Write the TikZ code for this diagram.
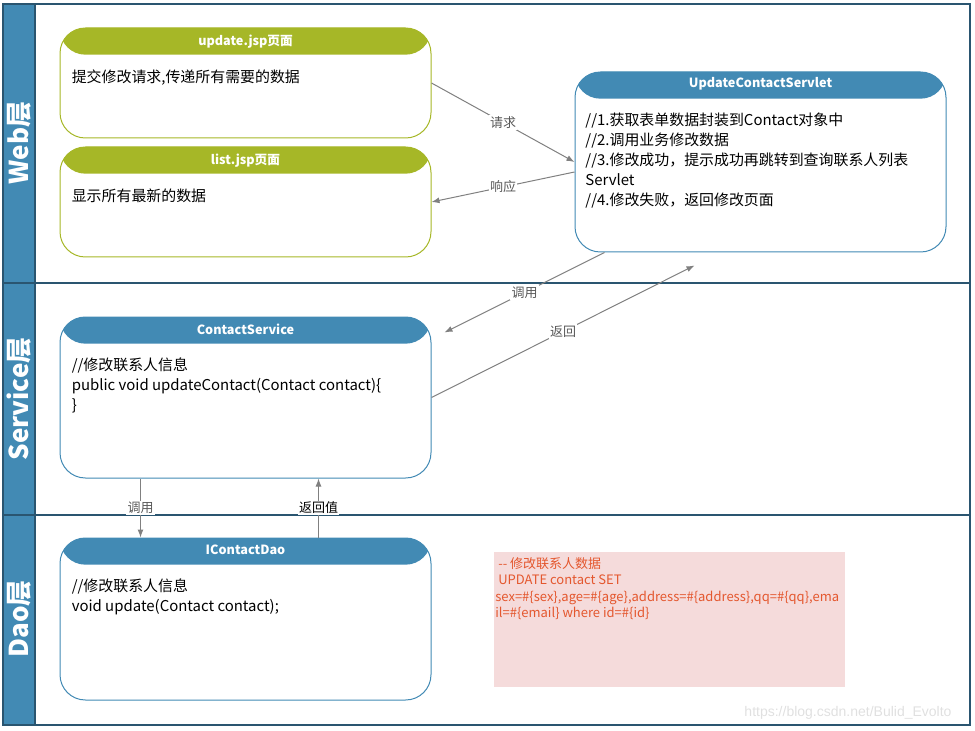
\documentclass[tikz,border=0pt]{standalone}
\usepackage{fontspec}
\setmainfont{Noto Sans CJK SC}
\newfontfamily\wmfont{Liberation Sans}
\usetikzlibrary{%
    arrows.meta,
    calc,
    positioning
}
\definecolor{laneblue}{HTML}{428AB4}
\definecolor{laneline}{HTML}{2A5570}
\definecolor{pagegreen}{HTML}{A6B727}
\definecolor{arrowgray}{HTML}{808080}
\definecolor{notepink}{HTML}{F5DBDB}
\definecolor{notered}{HTML}{E4572E}
\tikzset{headarrow/.style = {-{Latex[length=6pt,width=4.5pt]}}}
\tikzset{flow/.style = {arrowgray, line width=0.75pt, headarrow}}
\tikzset{flowlabel/.style = {fill=white, inner sep=1pt, text=black!65,
    font=\fontsize{9.75}{11}\selectfont}}
\tikzset{card/.style = {draw=#1, fill=white, line width=0.75pt,
    rounded corners=19pt, inner sep=0pt, minimum width=278.25pt,
    path picture={\fill[#1] (path picture bounding box.north west)
        rectangle ([yshift=-20pt]path picture bounding box.north east);}}}
\tikzset{cardtitle/.style = {text=white, inner sep=0pt,
    font=\bfseries\fontsize{9.5}{11}\selectfont}}
\tikzset{cardtext/.style = {anchor=north west, align=left, inner sep=0pt,
    font=\fontsize{11.2}{15}\selectfont}}
\tikzset{lanelabel/.style = {rotate=90, text=white, inner sep=0pt,
    font=\bfseries\fontsize{19.5}{20}\selectfont}}

\begin{document}
\begin{tikzpicture}[x=0.75pt, y=-0.75pt]
    \useasboundingbox (0,0) rectangle (975,731);

    % lanes
    \fill[laneblue] (3,4) rectangle (35,725);
    \draw[laneline, line width=0.9pt] (3,4) rectangle (970,725);
    \draw[laneline, line width=0.9pt] (35,4) -- (35,725);
    \foreach \Y in {283, 515}
        \draw[laneline, line width=0.9pt] (3,\Y) -- (970,\Y);
    \node[lanelabel] (weblane) at (19,143) {Web层};
    \node[lanelabel] (svclane) at (19,399) {Service层};
    \node[lanelabel] (daolane) at (19,619) {Dao层};

    % boxes
    \node[card=pagegreen, minimum height=82.5pt] (upd) at (245.5,83) {};
    \node[card=pagegreen, minimum height=82.5pt] (lst) at (245.5,202) {};
    \node[card=laneblue, minimum height=135pt] (srv) at (760.5,162) {};
    \node[card=laneblue, minimum height=120.75pt] (svc) at (245.5,397.5) {};
    \node[card=laneblue, minimum height=121.5pt] (dao) at (245.5,619) {};

    \node[cardtitle] at ([yshift=-10.5pt]upd.north) {update.jsp页面};
    \node[cardtitle] at ([yshift=-10.5pt]lst.north) {list.jsp页面};
    \node[cardtitle] at ([yshift=-9.5pt]srv.north) {UpdateContactServlet};
    \node[cardtitle] at ([yshift=-9.5pt]svc.north) {ContactService};
    \node[cardtitle] at ([yshift=-9.5pt]dao.north) {IContactDao};

    \node[cardtext] at ([xshift=9pt, yshift=-31.5pt]upd.north west)
        {提交修改请求,传递所有需要的数据};
    \node[cardtext] at ([xshift=9pt, yshift=-31.5pt]lst.north west)
        {显示所有最新的数据};
    \node[cardtext] at ([xshift=8pt, yshift=-31pt]srv.north west)
        {//1.获取表单数据封装到Contact对象中\\
         //2.调用业务修改数据\\
         //3.修改成功，提示成功再跳转到查询联系人列表\\
         Servlet\\
         //4.修改失败，返回修改页面};
    \node[cardtext] at ([xshift=9pt, yshift=-30.5pt]svc.north west)
        {//修改联系人信息\\
         public void updateContact(Contact contact)\{\\
         \}};
    \node[cardtext] at ([xshift=9pt, yshift=-30.5pt]dao.north west)
        {//修改联系人信息\\
         void update(Contact contact);};

    % sql note
    \node[fill=notepink, minimum width=263.25pt, minimum height=101.25pt,
          inner sep=0pt] (sql) at (669.5,619.5) {};
    \node[anchor=north west, align=left, inner sep=0pt, text=notered,
          font=\fontsize{9.75}{12.4}\selectfont]
        at ([xshift=1pt, yshift=-4pt]sql.north west)
        {\ -{}- 修改联系人数据\\
         \ UPDATE contact SET\\
         sex=\#\{sex\},age=\#\{age\},address=\#\{address\},qq=\#\{qq\},ema\\
         il=\#\{email\} where id=\#\{id\}};

    % connectors
    \coordinate (svcin) at ($(svc.north east)+(13,16)$);
    \coordinate (srvin) at ($(srv.south west)+(120,13)$);
    \draw[flow] (upd.east) -- node[flowlabel] {请求} (srv.west);
    \draw[flow] ([yshift=-7.5pt]srv.west) -- node[flowlabel] {响应} (lst.east);
    \draw[flow] ([xshift=22.5pt]srv.south west) -- node[flowlabel] {调用} (svcin);
    \draw[flow] (svc.east) -- node[flowlabel, pos=0.5] {返回} (srvin);
    \draw[flow] ([xshift=60.75pt]svc.south west) -- node[flowlabel] {调用}
        ([xshift=60.75pt]dao.north west);
    \draw[flow] ([xshift=194.25pt]dao.north west) -- node[flowlabel, text=black] {返回值}
        ([xshift=194.25pt]svc.south west);

    \node[text=black!12, inner sep=0pt, font=\wmfont\fontsize{10.5}{12}\selectfont]
        (mark) at (848,713) {https://blog.csdn.net/Bulid\_Evolto};
\end{tikzpicture}
\end{document}
